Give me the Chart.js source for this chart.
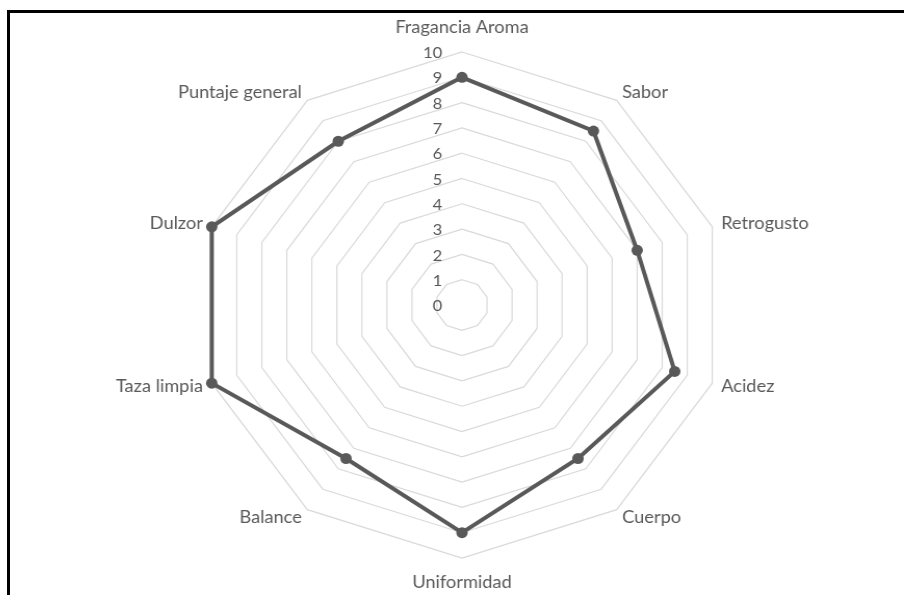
<!DOCTYPE html>
<html><head><meta charset="utf-8">
<script src="https://cdn.jsdelivr.net/npm/chart.js@4.4.1/dist/chart.umd.min.js"></script>
<style>
html,body{margin:0;padding:0;background:#fff;width:904px;height:595px;overflow:hidden;position:relative}
#frame{position:absolute;left:7px;top:10px;width:920px;height:620px;border-top:3px solid #000;border-left:3px solid #000;box-sizing:border-box}
#wrap{position:absolute;left:0;top:0;width:924px;height:595px;transform:scaleX(1.04);transform-origin:462px 0}
</style></head><body>
<div id="frame"></div>
<div id="wrap"><canvas id="c"></canvas></div>
<script>
const categories = ['Fragancia Aroma', 'Sabor', 'Retrogusto', 'Acidez', 'Cuerpo', 'Uniformidad', 'Balance', 'Taza limpia', 'Dulzor', 'Puntaje general'];
const scores = [9, 8.5, 7, 8.5, 7.5, 9, 7.5, 10, 10, 8];
const tickValues = [0, 1, 2, 3, 4, 5, 6, 7, 8, 9, 10];

const textColor = '#595959';
const fontFamily = 'Lato, "Open Sans", sans-serif';

const tickLabelPlugin = {
  id: 'tickLabelPlugin',
  beforeDatasetsDraw(chart) {
    const s = chart.scales.r;
    const ctx = chart.ctx;
    ctx.save();
    ctx.font = '16px ' + fontFamily;
    ctx.fillStyle = textColor;
    ctx.textAlign = 'right';
    ctx.textBaseline = 'middle';
    tickValues.forEach(v => {
      const d = s.getDistanceFromCenterForValue(v);
      ctx.fillText(String(v), s.xCenter - 19, s.yCenter - d + 1);
    });
    ctx.restore();
  }
};

new Chart(document.getElementById('c'), {
  type: 'radar',
  data: {
    labels: categories,
    datasets: [{
      data: scores,
      borderColor: '#595959',
      backgroundColor: 'rgba(0,0,0,0)',
      borderWidth: 4,
      pointRadius: 5.5,
      pointBackgroundColor: '#595959',
      pointBorderColor: '#595959',
      pointBorderWidth: 0,
      fill: false,
      tension: 0
    }]
  },
  options: {
    responsive: true,
    maintainAspectRatio: false,
    animation: false,
    layout: { padding: { top: 27, bottom: 12, left: 0, right: 0 } },
    plugins: { legend: { display: false }, tooltip: { enabled: false } },
    scales: {
      r: {
        min: 0,
        max: 10,
        ticks: { display: false, stepSize: 1 },
        angleLines: { display: false },
        grid: { circular: false, color: '#d9d9d9', lineWidth: 1.2 },
        pointLabels: {
          color: textColor,
          padding: (ctx) => (ctx.index === 0 || ctx.index === 5) ? 24 : 9,
          font: { family: fontFamily, size: 17.5, lineHeight: '1px' }
        }
      }
    }
  },
  plugins: [tickLabelPlugin]
});
</script>
</body></html>
